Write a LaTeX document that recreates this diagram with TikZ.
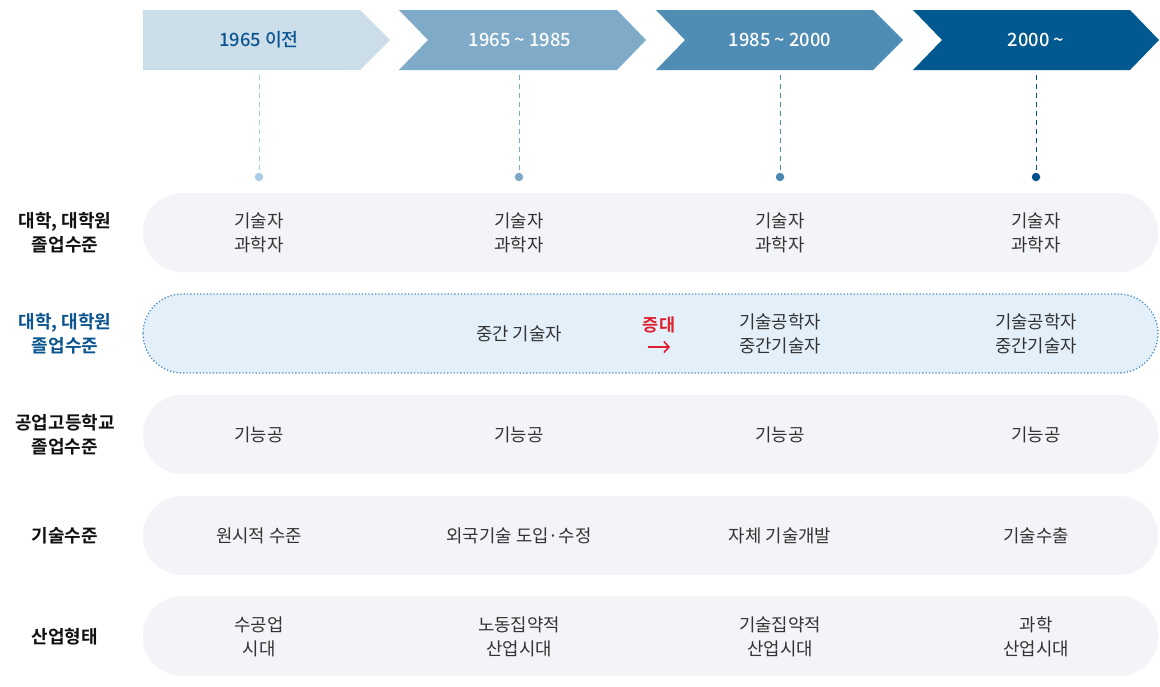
\documentclass[tikz,border=0pt]{standalone}
\usepackage{fontspec}
\usetikzlibrary{arrows.meta}
\setmainfont{Noto Sans CJK KR}[BoldFont={Noto Sans CJK KR Bold}]
\newfontfamily\medfont{Noto Sans CJK KR Medium}
\definecolor{ar1}{HTML}{CCDEEA}
\definecolor{ar2}{HTML}{80ABC8}
\definecolor{ar3}{HTML}{508DB5}
\definecolor{ar4}{HTML}{02598F}
\definecolor{dt1}{HTML}{A9CDE4}
\definecolor{dt2}{HTML}{7FA8C6}
\definecolor{dt3}{HTML}{4D88B3}
\definecolor{dt4}{HTML}{01528C}
\definecolor{hdtxt}{HTML}{0A5490}
\definecolor{rowfill}{HTML}{F3F4F8}
\definecolor{hlfill}{HTML}{E3F0FA}
\definecolor{hlline}{HTML}{4F8FC0}
\definecolor{celltxt}{HTML}{333333}
\definecolor{lbltxt}{HTML}{111111}
\definecolor{redtxt}{HTML}{E0202E}
\begin{document}
\begin{tikzpicture}[x=1pt,y=-1pt,
  rowbox/.style={fill=rowfill,draw=none,rounded corners=39.4},
  hlbox/.style={fill=hlfill,draw=hlline,line width=1.3pt,dotted,rounded corners=39.4},
  cell/.style={font=\fontsize{17.8}{24}\selectfont,text=celltxt,align=center,inner sep=0pt},
  lbl/.style={font=\bfseries\fontsize{18}{24}\selectfont,text=lbltxt,align=center,inner sep=0pt},
  hd/.style={font=\medfont\fontsize{18.3}{20}\selectfont,text=white,inner sep=0pt},
  vdash/.style={line width=0.9pt,dash pattern=on 5pt off 4pt},
  dotmark/.style={circle,inner sep=0pt,minimum size=8.5pt},
  redarrow/.style={draw=redtxt,line width=1.6pt,-{Straight Barb[length=5pt,width=11pt,line width=1.6pt]}}
]
\useasboundingbox (0,0) rectangle (1160,686);
\fill[white] (0,0) rectangle (1160,686);

% header arrows
\fill[ar1] (143,10) -- (360,10) -- (390,40) -- (360,70) -- (143,70) -- cycle;
\fill[ar2] (399,10) -- (617,10) -- (646,40) -- (617,70) -- (399,70) -- (428,40) -- cycle;
\fill[ar3] (656,10) -- (873,10) -- (903,40) -- (873,70) -- (656,70) -- (685,40) -- cycle;
\fill[ar4] (913,10) -- (1130,10) -- (1159,40) -- (1130,70) -- (913,70) -- (942,40) -- cycle;

\node[hd,text=hdtxt] (h1) at (259,40) {1965 이전};
\node[hd] (h2) at (520,40) {1965 \textasciitilde\ 1985};
\node[hd] (h3) at (780,40) {1985 \textasciitilde\ 2000};
\node[hd] (h4) at (1036,40) {2000 \textasciitilde};

% dashed drops and dots
\coordinate (s1) at (259,75); \node[dotmark,fill=dt1] (d1) at (259,177) {};
\coordinate (s2) at (519,75); \node[dotmark,fill=dt2] (d2) at (519,177) {};
\coordinate (s3) at (780,75); \node[dotmark,fill=dt3] (d3) at (780,177) {};
\coordinate (s4) at (1036,75); \node[dotmark,fill=dt4] (d4) at (1036,177) {};
\draw[vdash,draw=dt1] (s1) -- (d1);
\draw[vdash,draw=dt2] (s2) -- (d2);
\draw[vdash,draw=dt3] (s3) -- (d3);
\draw[vdash,draw=dt4] (s4) -- (d4);

% rows
\path[rowbox] (143,193) rectangle (1158,272);
\path[hlbox] (143,294) rectangle (1158,373);
\path[rowbox] (143,395) rectangle (1158,474);
\path[rowbox] (143,496) rectangle (1158,575);
\path[rowbox] (143,596) rectangle (1158,676);

% left labels
\node[lbl] (l1) at (65,233) {대학, 대학원\\졸업수준};
\node[lbl,text=hdtxt] (l2) at (65,334) {대학, 대학원\\졸업수준};
\node[lbl] (l3) at (65,435) {공업고등학교\\졸업수준};
\node[lbl] (l4) at (65,536) {기술수준};
\node[lbl] (l5) at (65,637) {산업형태};

% row 1
\node[cell] (r1c1) at (259,233) {기술자\\과학자};
\node[cell] (r1c2) at (519,233) {기술자\\과학자};
\node[cell] (r1c3) at (780,233) {기술자\\과학자};
\node[cell] (r1c4) at (1036,233) {기술자\\과학자};

% row 2
\node[cell] (r2c2) at (519,334) {중간 기술자};
\node[cell,text=redtxt,font=\bfseries\fontsize{17.5}{22}\selectfont] (inc) at (659,325) {증대};
\coordinate (ra) at (648,347);
\coordinate (rb) at (670,347);
\draw[redarrow] (ra) -- (rb);
\node[cell] (r2c3) at (780,334) {기술공학자\\중간기술자};
\node[cell] (r2c4) at (1036,334) {기술공학자\\중간기술자};

% row 3
\node[cell] (r3c1) at (259,435) {기능공};
\node[cell] (r3c2) at (519,435) {기능공};
\node[cell] (r3c3) at (780,435) {기능공};
\node[cell] (r3c4) at (1036,435) {기능공};

% row 4
\node[cell] (r4c1) at (259,536) {원시적 수준};
\node[cell] (r4c2) at (519,536) {외국기술 도입·수정};
\node[cell] (r4c3) at (780,536) {자체 기술개발};
\node[cell] (r4c4) at (1036,536) {기술수출};

% row 5
\node[cell] (r5c1) at (259,637) {수공업\\시대};
\node[cell] (r5c2) at (519,637) {노동집약적\\산업시대};
\node[cell] (r5c3) at (780,637) {기술집약적\\산업시대};
\node[cell] (r5c4) at (1036,637) {과학\\산업시대};
\end{tikzpicture}
\end{document}
